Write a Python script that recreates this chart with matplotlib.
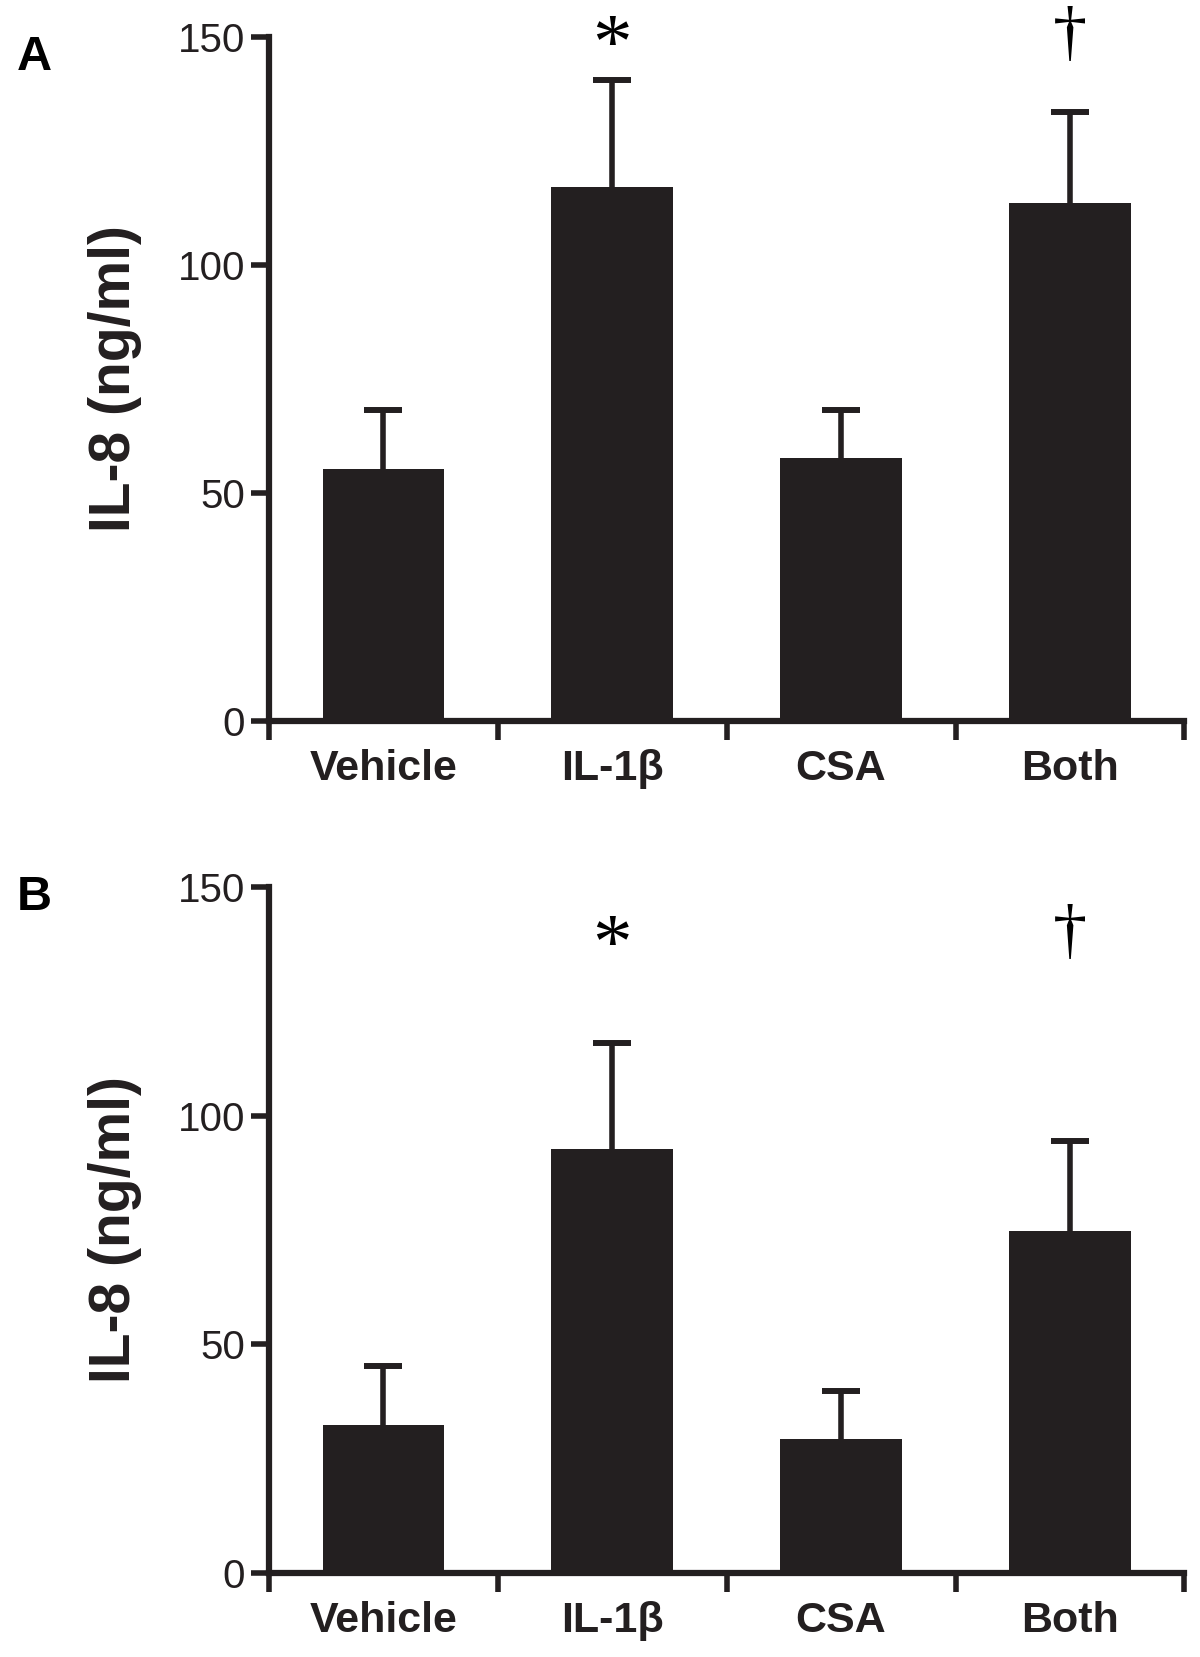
import numpy as np
import matplotlib
matplotlib.use("Agg")
import matplotlib.pyplot as plt

groups = ["Vehicle", "IL-1β", "CSA", "Both"]

# panel A: means and upper SEM
il8_a = [55.3, 117.2, 57.6, 113.6]
err_a = [13.0, 23.4, 10.7, 19.9]

# panel B
il8_b = [32.4, 92.7, 29.4, 74.7]
err_b = [12.9, 23.1, 10.4, 19.8]

# significance marks: (group index, symbol, height)
marks_a = [(1, "*", 147.6), (3, "†", 150.1)]
marks_b = [(1, "*", 136.6), (3, "†", 139.7)]

ink = "#231f20"
mark_size = {"*": 57, "†": 49}

plt.rcParams["font.family"] = ["Liberation Sans", "DejaVu Sans"]


def draw_panel(ax, values, errors, marks):
    x = np.arange(len(groups))
    lower = np.zeros(len(values))
    ax.bar(x, values, width=0.53, color=ink, zorder=2)
    eb = ax.errorbar(x, values, yerr=[lower, errors], fmt="none", ecolor=ink,
                     elinewidth=4, capsize=14, capthick=4.3, zorder=1)
    # only the upper cap is drawn in the original
    eb[1][0].set_visible(False)

    ax.set_xlim(-0.5, len(groups) - 0.5)
    ax.set_ylim(0, 150)
    ax.set_yticks([0, 50, 100, 150])
    ax.set_xticks(np.arange(len(groups) + 1) - 0.5)
    ax.set_xticklabels([])
    ax.set_xticks(x, minor=True)
    ax.set_xticklabels(groups, minor=True, fontsize=31, fontweight="bold")

    for side in ["top", "right"]:
        ax.spines[side].set_visible(False)
    for side in ["left", "bottom"]:
        ax.spines[side].set_linewidth(4.5)
        ax.spines[side].set_color(ink)

    ax.tick_params(axis="y", length=13, width=4, color=ink, labelsize=29,
                   pad=4, labelcolor=ink)
    ax.tick_params(axis="x", which="major", length=14, width=4, color=ink)
    ax.tick_params(axis="x", which="minor", length=0, pad=20, labelcolor=ink)

    ax.set_ylabel("IL-8 (ng/ml)", fontsize=41, fontweight="bold", color=ink)
    ax.yaxis.set_label_coords(-0.139, 0.5)

    for idx, sym, h in marks:
        ax.text(idx, h, sym, ha="center", va="center", fontsize=mark_size[sym],
                family="Liberation Serif", clip_on=False)


fig = plt.figure(figsize=(12, 16.57), dpi=100)
ax_a = fig.add_axes([0.224, 0.5649, 0.763, 0.4128])
ax_b = fig.add_axes([0.224, 0.0507, 0.763, 0.414])

draw_panel(ax_a, il8_a, err_a, marks_a)
draw_panel(ax_b, il8_b, err_b, marks_b)

fig.text(17 / 1200, 1 - 70 / 1657, "A", fontsize=35, fontweight="bold", va="baseline")
fig.text(17 / 1200, 1 - 910 / 1657, "B", fontsize=35, fontweight="bold", va="baseline")

fig.savefig("out.png", dpi=100)
